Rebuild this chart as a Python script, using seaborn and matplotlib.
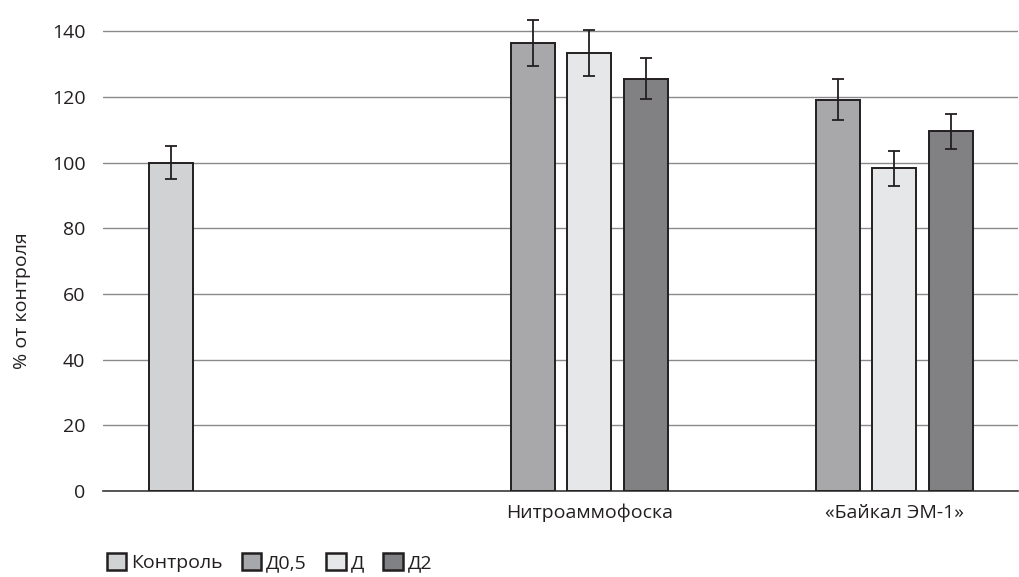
import numpy as np
import pandas as pd
import matplotlib.pyplot as plt
import seaborn as sns

# Данные
categories = ["", "Нитроаммофоска", "«Байкал ЭМ-1»"]
series = ["Контроль", "Д0,5", "Д", "Д2"]
control_vals = [100.0, None, None]
d05_vals = [None, 136.5, 119.2]
d_vals = [None, 133.5, 98.2]
d2_vals = [None, 125.5, 109.5]
control_err = [5.0, None, None]
d05_err = [None, 7.0, 6.2]
d_err = [None, 7.0, 5.3]
d2_err = [None, 6.2, 5.3]

colors = ["#d1d2d4", "#a7a8ab", "#e6e7e8", "#808184"]
edge = "#231f20"
txt = "#231f20"
fs = 14

values = [control_vals, d05_vals, d_vals, d2_vals]
errors = [control_err, d05_err, d_err, d2_err]
rows = []
for s, vals, errs in zip(series, values, errors):
    for c, v, e in zip(categories, vals, errs):
        if v is not None:
            rows.append({"cat": c, "series": s, "value": v, "err": e})
df = pd.DataFrame(rows)

sns.set_style("white")
plt.rcParams['font.family'] = ['Open Sans', 'DejaVu Sans']

fig = plt.figure(figsize=(10.19, 5.77), dpi=100)
ax = fig.add_axes([0.1015, 0.149, 0.898, 0.851])

total_w = 0.74
sns.barplot(data=df, x="cat", y="value", hue="series", order=categories,
            hue_order=series, palette=colors, width=total_w, gap=0.22,
            edgecolor=edge, linewidth=1.4, errorbar=None, ax=ax, zorder=3)

# Планки погрешностей
slot = total_w / len(series)
for j, s in enumerate(series):
    sub = df[df["series"] == s]
    xs = [categories.index(c) + (j - 1.5) * slot for c in sub["cat"]]
    ax.errorbar(xs, sub["value"], yerr=sub["err"], fmt="none",
                ecolor=edge, elinewidth=1.3, capsize=4.5, capthick=1.3, zorder=4)

ax.set_ylim(0, 149.5)
ax.set_xlim(-0.5, 2.5)
ax.set_yticks(np.arange(0, 141, 20))
ax.yaxis.grid(True, color="#8a8a8c", linewidth=1, zorder=0)
ax.set_axisbelow(True)
for side in ["top", "right", "left"]:
    ax.spines[side].set_visible(False)
ax.spines["bottom"].set_color("#3a3a3c")
ax.spines["bottom"].set_linewidth(1.2)
ax.tick_params(axis="y", length=0, pad=13, labelsize=fs, labelcolor=txt)
ax.tick_params(axis="x", length=0, pad=9, labelsize=fs, labelcolor=txt)
# подписи групп центрированы по средней колонке
ax.set_xticks([i + 0.5 * slot for i in range(len(categories))])
ax.set_xticklabels(categories)
ax.set_xlabel("")
ax.set_ylabel("% от контроля", fontsize=fs, color=txt)
ax.yaxis.set_label_coords(-0.079, 0.387)

ax.legend_.remove()
handles = [plt.Rectangle((0, 0), 1, 1, facecolor=col, edgecolor=edge, linewidth=1.8)
           for col in colors]
fig.legend(handles, series, loc="center left", bbox_to_anchor=(0.095, 0.025),
           ncol=4, frameon=False, fontsize=fs, handlelength=1.0, handleheight=1.0,
           handletextpad=0.25, columnspacing=1.0, borderpad=0, labelcolor=txt)

fig.savefig("out.png", dpi=100)
